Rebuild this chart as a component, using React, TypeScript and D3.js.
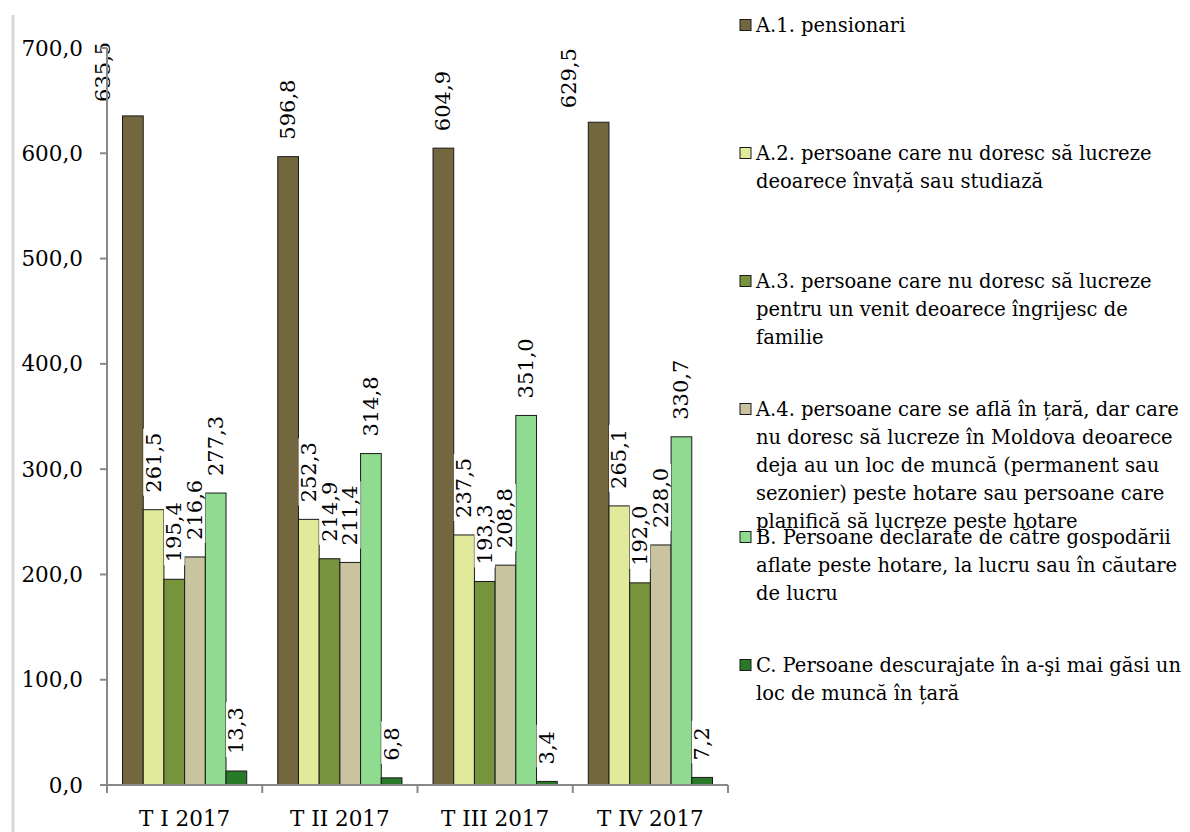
import React from "react";
import * as d3 from "d3";

const categories = ["T I 2017", "T II 2017", "T III 2017", "T IV 2017"];
const seriesKeys = ["A1", "A2", "A3", "A4", "B", "C"];
const seriesColors = ["#72673f", "#e1e99b", "#77933c", "#c9c3a0", "#8fdb90", "#287a28"];
const valuesA1 = [635.5, 596.8, 604.9, 629.5];
const valuesA2 = [261.5, 252.3, 237.5, 265.1];
const valuesA3 = [195.4, 214.9, 193.3, 192.0];
const valuesA4 = [216.6, 211.4, 208.8, 228.0];
const valuesB = [277.3, 314.8, 351.0, 330.7];
const valuesC = [13.3, 6.8, 3.4, 7.2];
const seriesValues = [valuesA1, valuesA2, valuesA3, valuesA4, valuesB, valuesC];
const yTicks = [0, 100, 200, 300, 400, 500, 600, 700];
const legendLines = [
  ["A.1. pensionari"],
  ["A.2. persoane care nu doresc să lucreze", "deoarece învață sau studiază"],
  ["A.3. persoane care nu doresc să lucreze", "pentru un venit deoarece îngrijesc de", "familie"],
  [
    "A.4. persoane care se află în țară, dar care",
    "nu doresc să lucreze în Moldova deoarece",
    "deja au un loc de muncă (permanent sau",
    "sezonier) peste hotare sau persoane care",
    "planifică să lucreze peste hotare",
  ],
  ["B. Persoane declarate de către gospodării", "aflate peste hotare, la lucru sau în căutare", "de lucru"],
  ["C. Persoane descurajate în a-şi mai găsi un", "loc de muncă în țară"],
];

const FONT = "'DejaVu Serif', serif";
const fmt = (v: number) => v.toFixed(1).replace(".", ",");

export default function App() {
  const W = 1190;
  const H = 832;
  const left = 107;
  const right = 728;
  const top = 48;
  const bottom = 785;

  const x0 = d3.scaleBand<string>().domain(categories).range([left, right]).padding(0);
  const x1 = d3
    .scaleBand<string>()
    .domain(seriesKeys)
    .range([0, x0.bandwidth()])
    .paddingInner(0)
    .paddingOuter(0.75);
  const y = d3.scaleLinear().domain([0, 700]).range([bottom, top]);

  const labelFont = 21;
  const gap = 17;

  const bars: any[] = [];
  const labels: any[] = [];
  categories.forEach((c, ci) => {
    seriesKeys.forEach((k, si) => {
      const v = seriesValues[si][ci];
      const bx = (x0(c) as number) + (x1(k) as number);
      const bw = x1.bandwidth();
      const by = y(v);
      bars.push(
        <rect key={`b-${ci}-${si}`} x={bx} y={by} width={bw} height={bottom - by}
          fill={seriesColors[si]} stroke="#1a1a1a" strokeWidth={1} />
      );
      const txt = fmt(v);
      const len = txt.length * 12.2;
      let cx = bx + bw / 2;
      let startY = by - gap;
      if (startY - len < top) {
        cx -= 30;
        startY = by - 14;
      }
      labels.push(
        <g key={`l-${ci}-${si}`} transform={`translate(${cx},${startY}) rotate(-90)`}>
          <rect x={-3} y={-bw / 2} width={len + 6} height={bw} fill="#ffffff" />
          <text x={0} y={0} dominantBaseline="central" fontFamily={FONT} fontSize={labelFont} fill="#000">
            {txt}
          </text>
        </g>
      );
    });
  });

  return (
    <svg width={W} height={H} style={{ position: "absolute", left: 0, top: 0, background: "#fff" }}>
      <line x1={13} x2={13} y1={15} y2={H} stroke="#d9d9d9" strokeWidth={3} />
      {bars}
      {labels}
      {/* y axis */}
      <line x1={left} x2={left} y1={top} y2={bottom} stroke="#898989" strokeWidth={2} />
      {yTicks.map((t) => (
        <g key={`yt-${t}`}>
          <line x1={left - 7} x2={left} y1={y(t)} y2={y(t)} stroke="#898989" strokeWidth={2} />
          <text x={83} y={y(t)} dominantBaseline="central" textAnchor="end" fontFamily={FONT} fontSize={21.5}>
            {fmt(t)}
          </text>
        </g>
      ))}
      {/* x axis */}
      <line x1={left} x2={right} y1={bottom} y2={bottom} stroke="#898989" strokeWidth={2} />
      {[...categories.map((c) => x0(c) as number), right].map((tx, i) => (
        <line key={`xt-${i}`} x1={tx} x2={tx} y1={bottom} y2={bottom + 8} stroke="#898989" strokeWidth={2} />
      ))}
      {categories.map((c) => (
        <text key={`xl-${c}`} x={(x0(c) as number) + x0.bandwidth() / 2} y={818} dominantBaseline="central"
          textAnchor="middle" fontFamily={FONT} fontSize={21.5}>
          {c}
        </text>
      ))}
      {/* legend */}
      {legendLines.map((lines, i) => {
        const cy = 25 + i * 128;
        return (
          <g key={`lg-${i}`}>
            <rect x={740} y={cy - 5.5} width={11} height={11} fill={seriesColors[i]} stroke="#1a1a1a" strokeWidth={1} />
            {lines.map((ln, j) => (
              <text key={j} x={756} y={cy + j * 28} dominantBaseline="central" fontFamily={FONT} fontSize={19.5}>
                {ln}
              </text>
            ))}
          </g>
        );
      })}
    </svg>
  );
}
